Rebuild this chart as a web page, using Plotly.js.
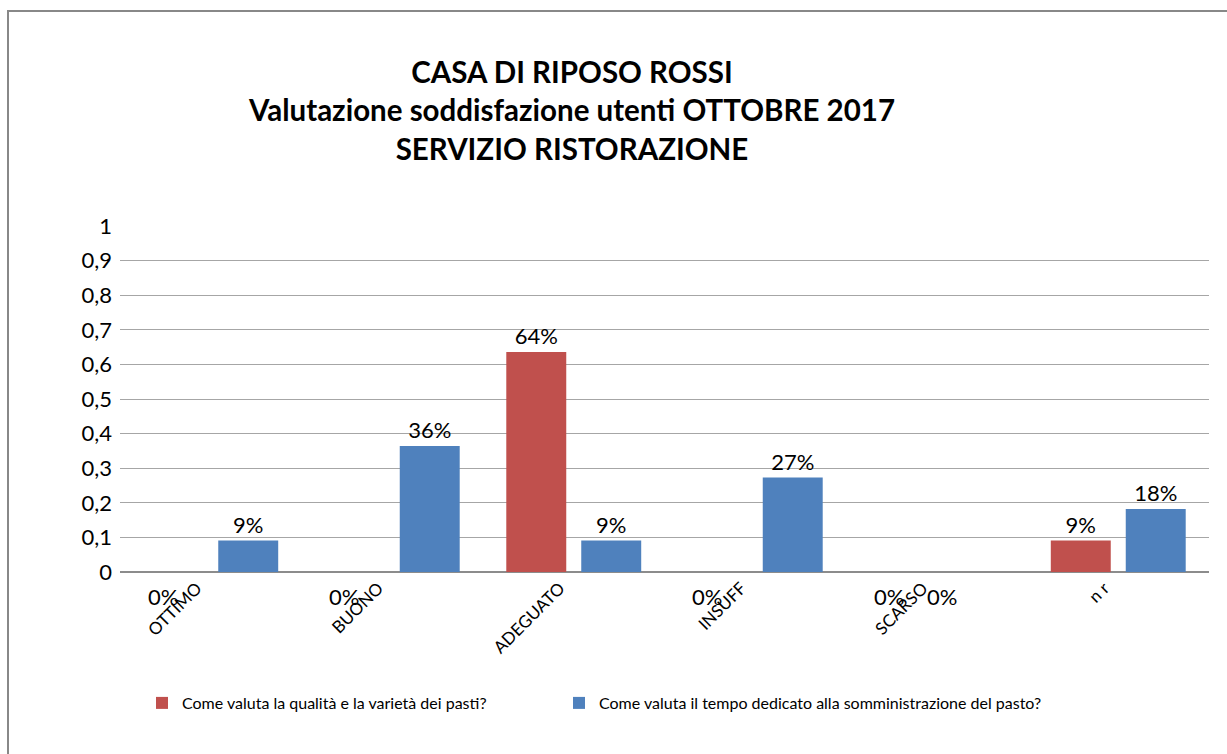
<!DOCTYPE html>
<html>
<head>
<meta charset="utf-8">
<script src="https://cdn.plot.ly/plotly-3.0.1.min.js"></script>
<style>
  html, body { margin: 0; padding: 0; background: #fff; overflow: hidden; }
  #frame { position: absolute; left: 7px; top: 10px; width: 1400px; height: 900px;
           border-left: 2px solid #888; border-top: 2px solid #888; pointer-events: none; z-index: 5; }
  #chart { position: absolute; left: 0; top: 0; width: 1227px; height: 754px; }
</style>
</head>
<body>
<div id="chart"></div>
<div id="frame"></div>
<script>
const categories = ["OTTIMO", "BUONO", "ADEGUATO", "INSUFF", "SCARSO", "n r"];
const seriesNames = [
  "Come valuta la qualità e la varietà dei pasti?",
  "Come valuta il tempo dedicato alla somministrazione del pasto?"
];
const qualitaValues = [0, 0, 0.636, 0, 0, 0.091];
const tempoValues = [0.091, 0.364, 0.091, 0.273, 0, 0.182];
const seriesColors = ["#C0504D", "#4F81BD"];
const yTicks = [0, 0.1, 0.2, 0.3, 0.4, 0.5, 0.6, 0.7, 0.8, 0.9, 1];

const FONT = "Lato, 'Open Sans', sans-serif";
const pct = v => Math.round(v * 100) + "%";
const allSeries = [qualitaValues, tempoValues];
const legendIds = ["legend", "legend2"];

const traces = allSeries.map((vals, i) => ({
  type: "bar",
  name: seriesNames[i],
  legend: legendIds[i],
  x: categories,
  y: vals,
  marker: { color: seriesColors[i] },
  text: vals.map(v => v > 0 ? pct(v) : ""),
  textposition: "outside",
  textfont: { family: FONT, size: 22, color: "#000" },
  cliponaxis: false,
  hoverinfo: "x+y"
}));

// zero-value labels drawn below the axis, as in the original
const zeroShift = [-48, 5];
const annotations = [];
allSeries.forEach((vals, i) => {
  vals.forEach((v, j) => {
    if (v === 0) {
      annotations.push({
        x: categories[j], y: 0, xref: "x", yref: "y",
        text: pct(v), showarrow: false,
        xshift: zeroShift[i],
        yshift: -24, yanchor: "middle",
        font: { family: FONT, size: 22, color: "#000" }
      });
    }
  });
});

const legendBase = {
  orientation: "h",
  xanchor: "left",
  y: -114 / 346, yanchor: "top",
  font: { family: FONT, size: 16, color: "#000" },
  itemwidth: 30,
  bgcolor: "rgba(0,0,0,0)"
};

const layout = {
  width: 1227, height: 754,
  margin: { l: 120, r: 18, t: 226, b: 182 },
  paper_bgcolor: "#fff", plot_bgcolor: "#fff",
  separators: ",.",
  title: {
    text: "<b>CASA DI RIPOSO ROSSI</b><br><b>Valutazione soddisfazione utenti OTTOBRE 2017</b><br><b>SERVIZIO RISTORAZIONE</b>",
    font: { family: FONT, size: 29.5, color: "#000" },
    xref: "container", yref: "container",
    x: 572 / 1227, xanchor: "center",
    y: 1 - 83 / 754, yanchor: "top"
  },
  barmode: "group",
  bargap: 0.174,
  bargroupgap: 0.2,
  xaxis: {
    type: "category",
    tickangle: -45,
    tickfont: { family: FONT, size: 17, color: "#000" },
    ticklabelshift: -14,
    ticklabelstandoff: 2,
    showgrid: false, zeroline: false, showline: false, ticks: ""
  },
  yaxis: {
    range: [0, 1],
    tickvals: yTicks,
    tickformat: ".1~f",
    tickfont: { family: FONT, size: 22, color: "#000" },
    showgrid: true, gridcolor: "#a6a6a6", gridwidth: 1,
    zeroline: true, zerolinecolor: "#8c8c8c", zerolinewidth: 1.5,
    showline: false, ticks: "", ticklabelstandoff: 7
  },
  showlegend: true,
  legend: Object.assign({}, legendBase, { x: 22 / 1089 }),
  legend2: Object.assign({}, legendBase, { x: 439 / 1089 }),
  annotations: annotations
};

Plotly.newPlot("chart", traces, layout, { displayModeBar: false, staticPlot: true });
</script>
</body>
</html>
